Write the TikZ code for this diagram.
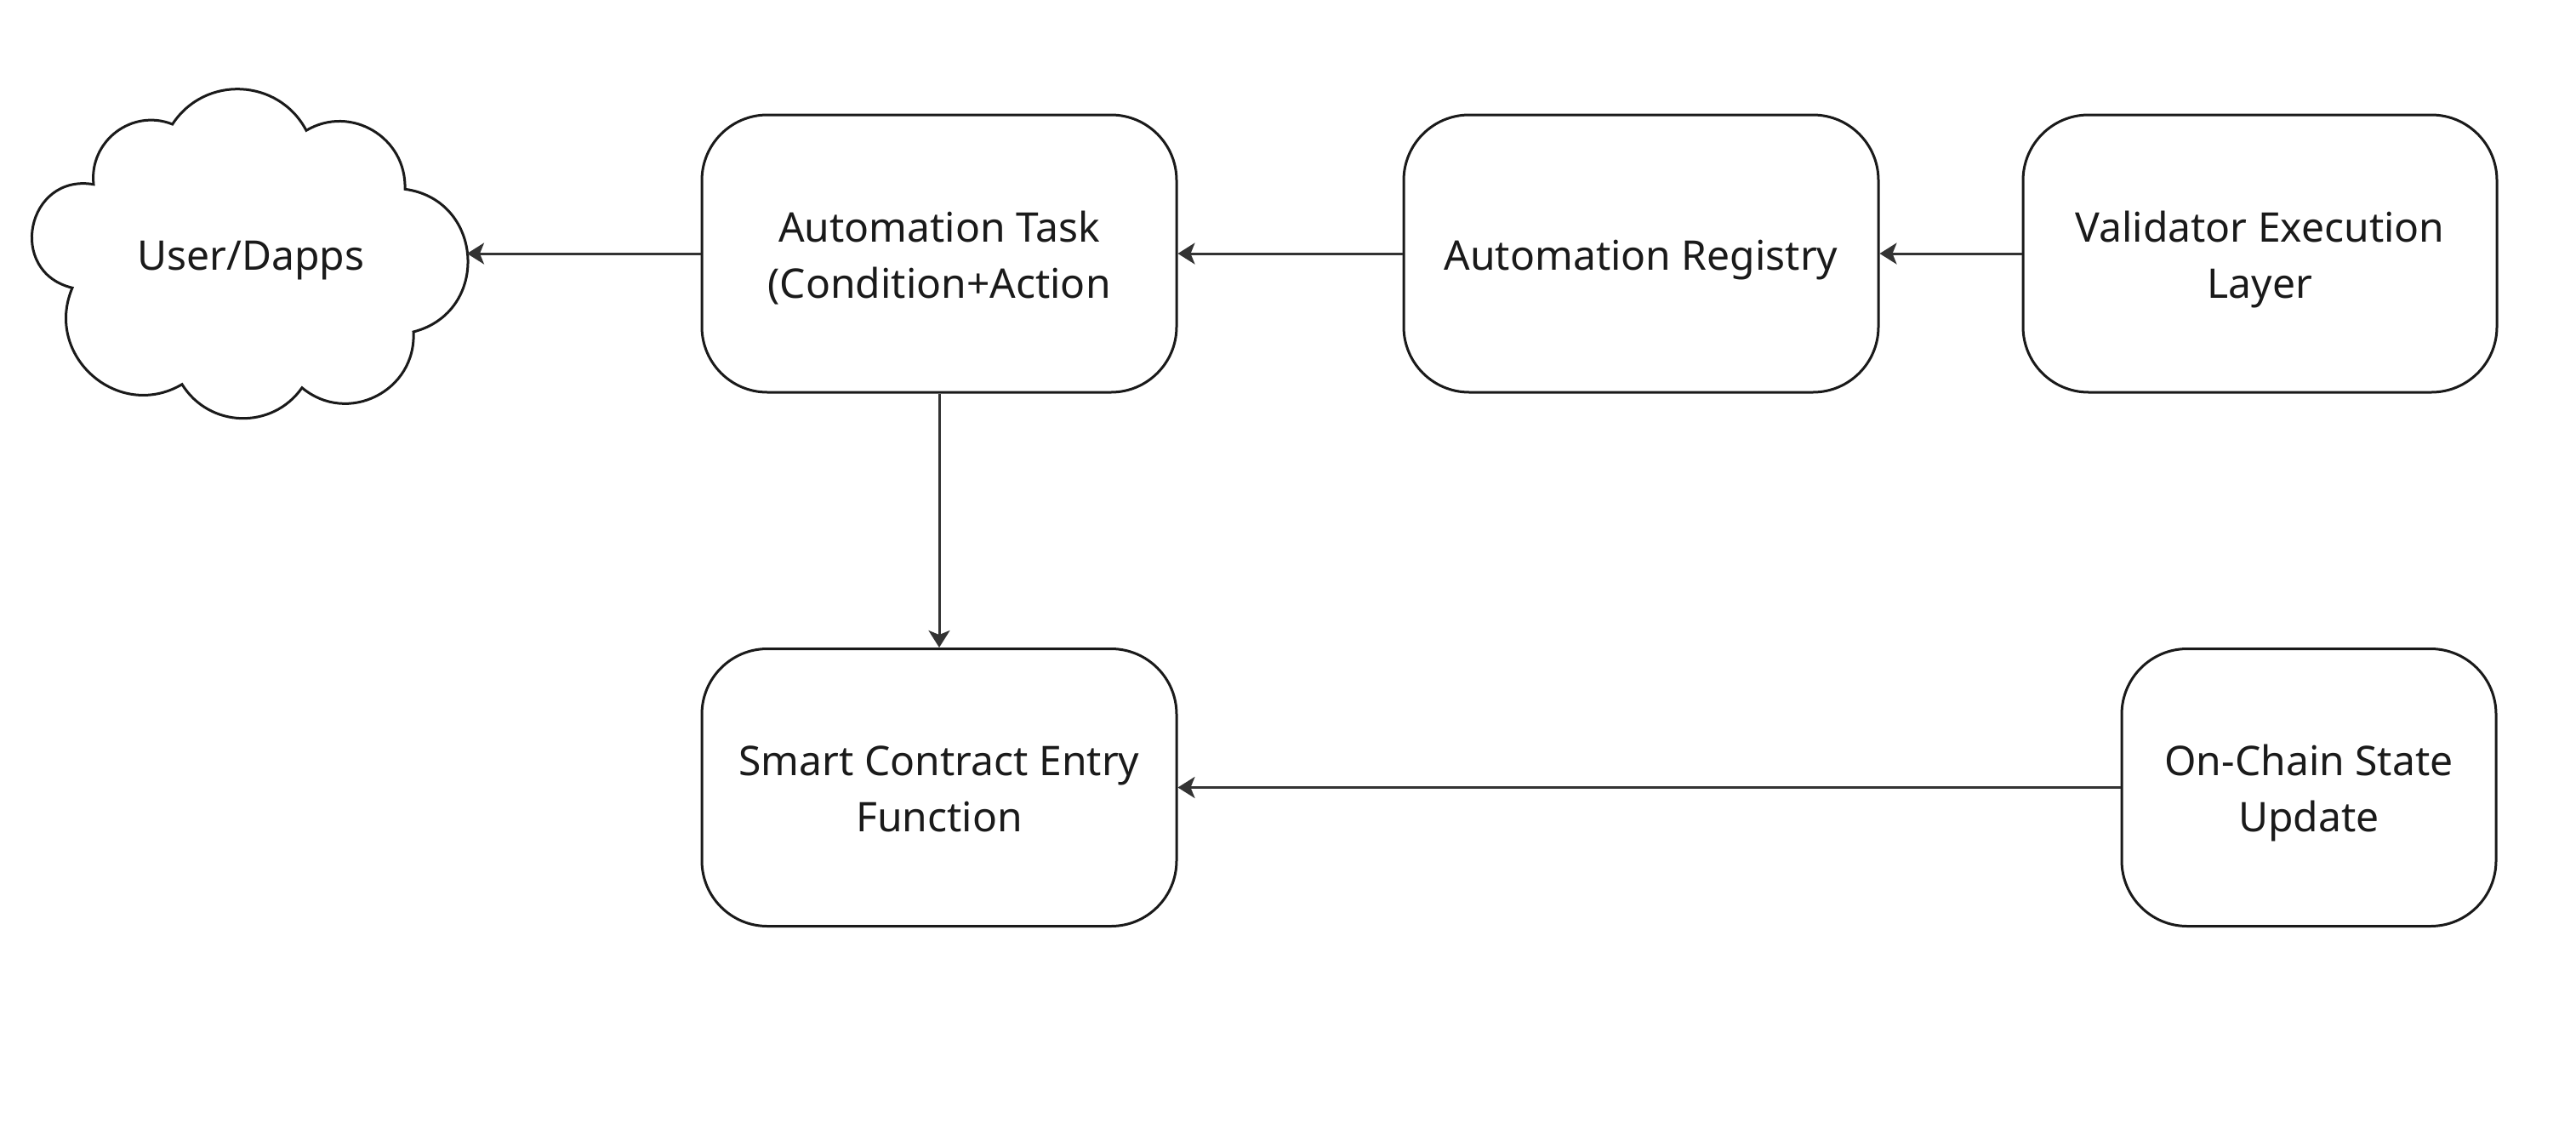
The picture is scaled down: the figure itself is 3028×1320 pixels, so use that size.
\documentclass[tikz,border=0pt]{standalone}
\usepackage{fontspec}
\setmainfont{Noto Sans}
\usetikzlibrary{arrows.meta}
\definecolor{linec}{HTML}{1A1A1A}
\definecolor{connc}{HTML}{333333}
\definecolor{textc}{HTML}{1A1A1A}
\newcommand{\boxtxt}[1]{\raisebox{-6pt}[\height][\depth]{\begin{tabular}{@{}c@{}}#1\end{tabular}}}
\tikzset{
  box/.style={draw=linec, line width=3pt, rounded corners=77pt, fill=white,
    minimum width=558pt, minimum height=326pt, inner sep=0pt,
    text=textc, font=\fontsize{48}{66}\selectfont},
  lbl/.style={inner sep=0pt, text=textc, font=\fontsize{48}{66}\selectfont},
  conn/.style={draw=connc, line width=3pt, -{Stealth[length=20pt, width=25pt, inset=5pt]}},
  cloudline/.style={draw=linec, line width=3pt, line join=miter}
}
\begin{document}
\begin{tikzpicture}[x=1pt,y=1pt]
\useasboundingbox[fill=white] (0,0) rectangle (3028,-1320);
% cloud
\draw[cloudline]
  (110,-216.7) to[out=96.3,in=158.3,looseness=1.124]
  (202.7,-146) to[out=56.8,in=117.8,looseness=1.129]
  (360,-153.3) to[out=30.6,in=88,looseness=1.151]
  (476,-222.3) to[out=-7.7,in=14.5,looseness=1.428]
  (486,-390) to[out=-87,in=-39.8,looseness=1.216]
  (355,-455.7) to[out=235,in=301.8,looseness=1.098]
  (214,-451.7) to[out=210.4,in=247,looseness=1.296]
  (85,-338.3) to[out=166.4,in=170.4,looseness=1.645]
  (110,-216.7) -- cycle;
\node[lbl] (user) at (295,-298) {\boxtxt{User/Dapps}};
\coordinate (cloudE) at (549,-298);
% boxes
\node[box] (task) at (1104,-298) {\boxtxt{Automation Task\\(Condition+Action}};
\node[box] (reg) at (1929,-298) {\boxtxt{Automation Registry}};
\node[box, minimum width=557pt] (val) at (2656.5,-298) {\boxtxt{Validator Execution\\Layer}};
\node[box] (smart) at (1104,-925.5) {\boxtxt{Smart Contract Entry\\Function}};
\node[box, minimum width=440pt] (chain) at (2714,-925.5) {\boxtxt{On-Chain State\\Update}};
% connectors
\draw[conn] (task.west) -- (cloudE);
\draw[conn] (reg.west) -- (task.east);
\draw[conn] (val.west) -- (reg.east);
\draw[conn] (task.south) -- (smart.north);
\draw[conn] (chain.west) -- (smart.east);
\end{tikzpicture}
\end{document}
